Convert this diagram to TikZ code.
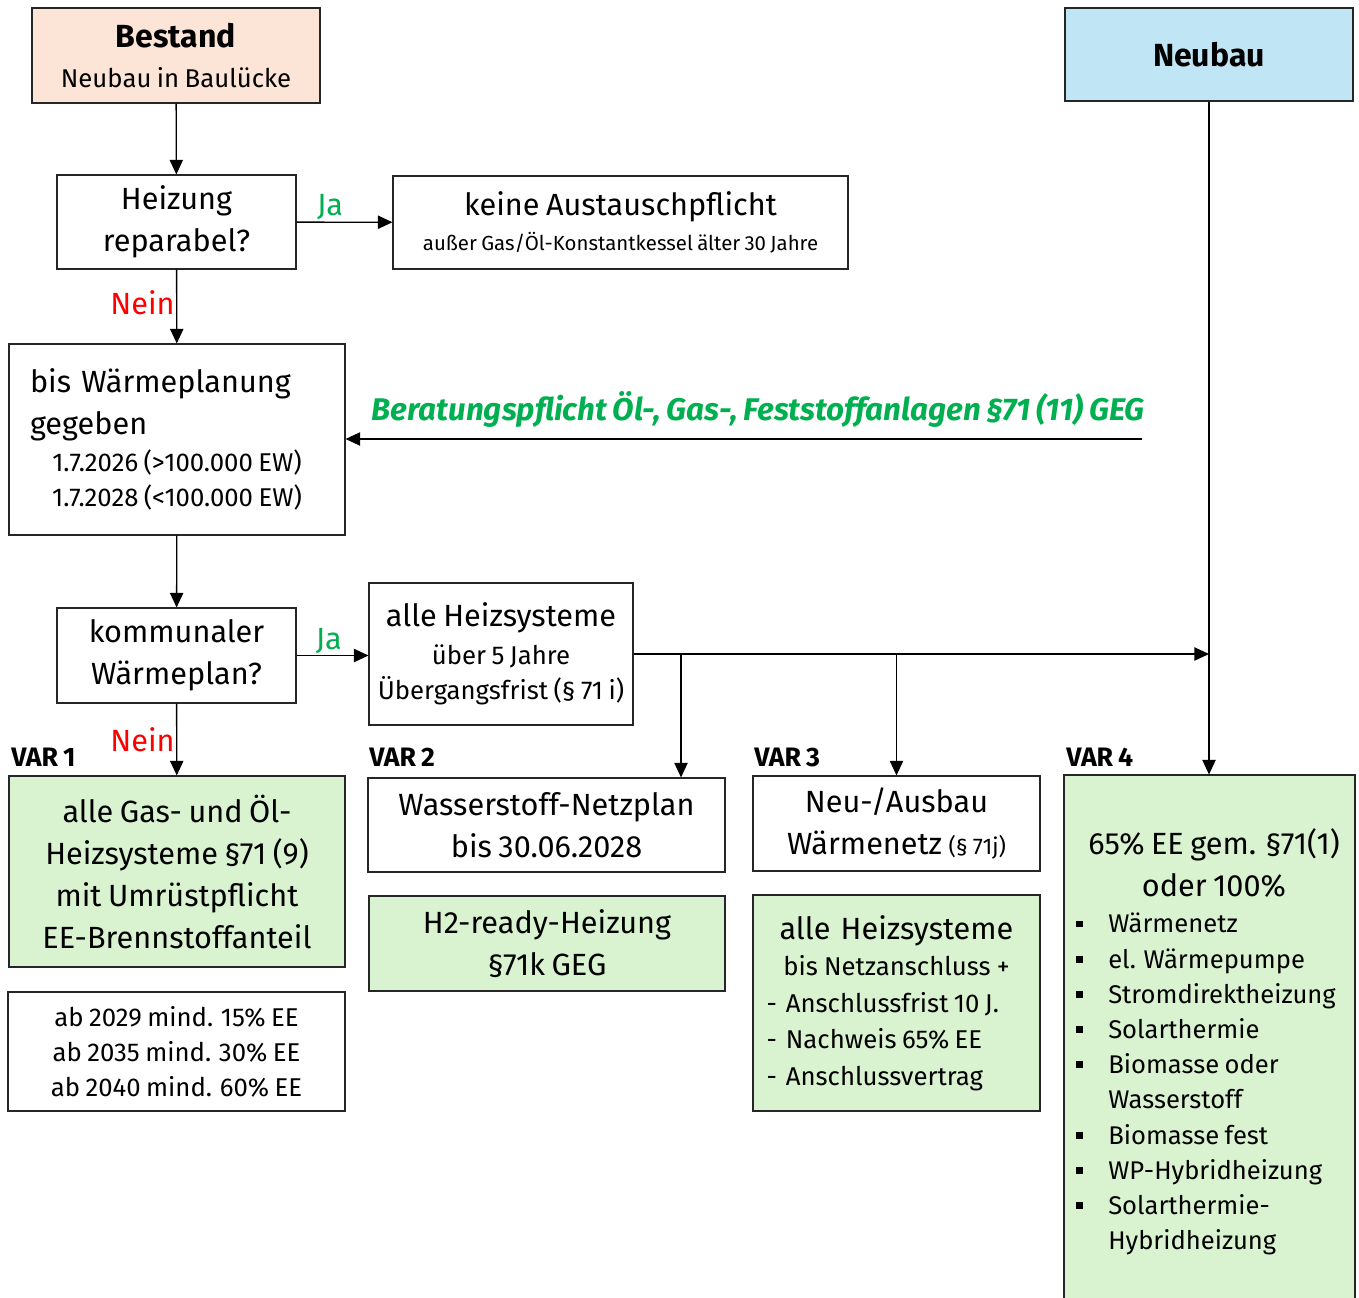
\documentclass[tikz,border=0pt]{standalone}
\usepackage{fontspec}
\setmainfont{Fira Sans}[WordSpace=0.8]
\usetikzlibrary{arrows.meta,positioning}
\definecolor{gruen}{RGB}{0,176,80}
\definecolor{rot}{RGB}{255,0,0}
\definecolor{lachs}{RGB}{252,228,214}
\definecolor{hellblau}{RGB}{192,230,245}
\definecolor{hellgruen}{RGB}{217,242,208}

\newcommand\gross{\fontsize{23}{31.5}\selectfont}
\newcommand\mittel{\fontsize{19.3}{27.3}\selectfont\spaceskip=0pt\relax}
\newcommand\klein{\fontsize{15.3}{18}\selectfont}
\newcommand\titel{\fontsize{24}{28}\selectfont}
\newcommand\liste{\fontsize{19.2}{26.4}\selectfont}
\newcommand\punkt{\makebox[24pt][l]{\rule[0.22em]{5pt}{5pt}}}
\newcommand\leer{\makebox[24pt]{}}

\tikzset{
	kasten/.style={draw=black!85, line width=0.8pt, align=center, inner sep=0pt, font=\gross},
	gruenbox/.style={kasten, fill=hellgruen},
	pfeil/.style={line width=1pt, -{Triangle[length=11pt,width=10pt]}},
	ja/.style={text=gruen, font=\gross, inner sep=1pt},
	nein/.style={text=rot, font=\gross, inner sep=1pt},
	varlab/.style={font=\bfseries\fontsize{20}{24}\selectfont, anchor=west, inner sep=0pt},
}

\begin{document}
\begin{tikzpicture}[x=0.75pt,y=0.75pt,yscale=-1,xscale=1]
	\useasboundingbox (0,0) rectangle (1359,1298);

	% Kopf
	\node[kasten, fill=lachs, minimum width=216pt, minimum height=71.25pt] (bestand) at (176,55.5) {{\titel\bfseries Bestand}\\[-2pt]{\mittel Neubau in Baulücke}};
	\node[kasten, fill=hellblau, minimum width=216pt, minimum height=69.75pt] (neubau) at (1209,54.5) {\titel\bfseries Neubau};

	% linke Spalte
	\node[kasten, minimum width=179.25pt, minimum height=70.5pt] (heizung) at (176.5,222) {Heizung\\reparabel?};
	\node[kasten, minimum width=341.25pt, minimum height=69.75pt] (keine) at (620.5,222.5) {keine Austauschpflicht\\[-5pt]{\klein außer Gas/Öl-Konstantkessel älter 30 Jahre}};
	\node[kasten, minimum width=252pt, minimum height=143.25pt, text width=220.5pt, align=left] (planung) at (177,439.5) {bis Wärmeplanung\\gegeben\par
		\mittel\centering 1.7.2026 (>100.000 EW)\\[-1pt]1.7.2028 (<100.000 EW)\par};
	\node[kasten, minimum width=179.25pt, minimum height=71.25pt] (waermeplan) at (176.5,655.5) {kommunaler\\Wärmeplan?};
	\node[kasten, minimum width=198pt, minimum height=106.5pt] (uebergang) at (501,654) {alle Heizsysteme\\[-3pt]{\mittel über 5 Jahre}\\[-5pt]{\mittel Übergangsfrist (§ 71 i)}};

	% Varianten
	\node[varlab] (var1lab) at (11,757) {VAR 1};
	\node[varlab] (var2lab) at (369,757) {VAR 2};
	\node[varlab] (var3lab) at (754,757) {VAR 3};
	\node[varlab] (var4lab) at (1066,757) {VAR 4};

	\node[gruenbox, minimum width=252pt, minimum height=143.25pt] (var1) at (177,871.5) {alle Gas- und Öl-\\Heizsysteme §71 (9)\\mit Umrüstpflicht\\EE-Brennstoffanteil};
	\node[kasten, minimum width=252.75pt, minimum height=89.25pt, font=\fontsize{19.3}{26.3}\selectfont] (quoten) at (176.5,1051.5) {ab 2029 mind. 15\% EE\\ab 2035 mind. 30\% EE\\ab 2040 mind. 60\% EE};
	\node[kasten, minimum width=267.75pt, minimum height=70.5pt] (netzplan) at (546.5,825) {Wasserstoff-Netzplan\\bis 30.06.2028};
	\node[gruenbox, minimum width=267pt, minimum height=71.25pt] (htwo) at (547,943.5) {H2-ready-Heizung\\§71k GEG};
	\node[kasten, minimum width=215.25pt, minimum height=71.25pt] (ausbau) at (896.5,823.5) {Neu-/Ausbau\\Wärmenetz {\fontsize{17}{20}\selectfont(§ 71j)}};
	\node[gruenbox, minimum width=215.25pt, minimum height=162pt, text width=195pt, align=center] (anschluss) at (896.5,1003) {alle Heizsysteme\par
		\mittel bis Netzanschluss +\par\raggedright
		-\hspace{0.35em}Anschlussfrist 10 J.\\-\hspace{0.35em}Nachweis 65\% EE\\-\hspace{0.35em}Anschlussvertrag\par};
	\node[gruenbox, minimum width=218.25pt, minimum height=397.5pt] (var4) at (1209.5,1040) {};
	\node[align=center, font=\gross, inner sep=0pt, anchor=north] (var4kopf) at (1214,828) {65\% EE gem. §71(1)\\oder 100\%};
	\node[align=left, font=\liste, inner sep=0pt, anchor=north west] (var4liste) at (1076,913) {\punkt Wärmenetz\\\punkt el. Wärmepumpe\\\punkt Stromdirektheizung\\\punkt Solarthermie\\\punkt Biomasse oder\\\leer Wasserstoff\\\punkt Biomasse fest\\\punkt WP-Hybridheizung\\\punkt Solarthermie-\\\leer Hybridheizung};

	% Beratung
	\coordinate (berstart) at (1142,439);
	\node[anchor=south east, inner sep=0pt, text=gruen, font=\bfseries\itshape\fontsize{23.5}{27}\selectfont] (beratung) at (1145,428) {Beratungspflicht Öl-, Gas-, Feststoffanlagen §71 (11) GEG};
	\draw[pfeil] (berstart) -- (planung.east |- berstart);

	% Pfeile
	\draw[pfeil] (bestand) -- (heizung);
	\draw[pfeil] (heizung) -- node[ja, above, pos=0.35] {Ja} (keine);
	\draw[pfeil] (heizung) -- node[nein, left, pos=0.45] {Nein} (planung);
	\draw[pfeil] (planung) -- (waermeplan);
	\draw[pfeil] (waermeplan.east) -- node[ja, above, pos=0.45] {Ja} (waermeplan.east -| uebergang.west);
	\draw[pfeil] (waermeplan) -- node[nein, left, pos=0.5] {Nein} (var1);
	\coordinate (knick) at (neubau.south |- uebergang.east);
	\coordinate (ab2) at (681,654);
	\coordinate (ab3) at (ausbau.north |- uebergang.east);
	\draw[pfeil] (uebergang.east) -- (knick);
	\draw[pfeil] (ab2) -- (ab2 |- netzplan.north);
	\draw[pfeil] (ab3) -- (ausbau.north);
	\draw[pfeil] (neubau.south) -- (neubau.south |- var4.north);
\end{tikzpicture}
\end{document}
